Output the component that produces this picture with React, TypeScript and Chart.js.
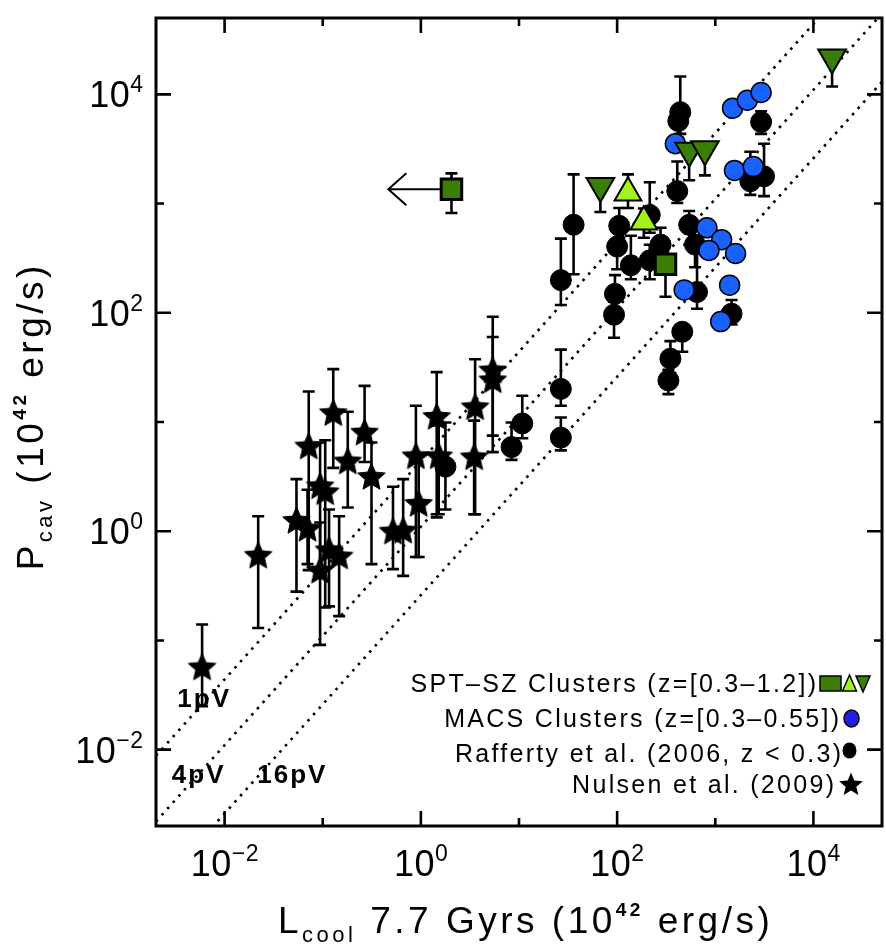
import React, { useEffect, useRef } from 'react';
import { Chart, registerables } from 'chart.js';

Chart.register(...registerables);

// ---------- axis ranges & ticks ----------
const X_MIN = 2e-3;
const X_MAX = 5e4;
const Y_MIN = 2e-3;
const Y_MAX = 5e4;
const majorDecades = [-2, 0, 2, 4];
const minorDecades = [-1, 1, 3];

// ---------- Nulsen et al. (2009) : stars ----------
const nulsenL = [0.0059, 0.022, 0.054, 0.072, 0.07, 0.094, 0.106, 0.094, 0.116, 0.147, 0.128, 0.18, 0.267, 0.314, 0.52, 0.66, 0.89, 0.95, 1.45, 1.52, 3.57, 3.49, 5.4, 5.4];
const nulsenP = [0.056, 0.59, 1.23, 5.9, 1.04, 2.55, 2.25, 0.43, 0.66, 0.58, 11.9, 4.3, 7.9, 3.1, 0.98, 1.0, 4.8, 1.76, 11.0, 4.8, 13.5, 4.7, 29.3, 23.8];
const nulsenLo = [0.025, 0.13, 0.28, 0.44, 0.5, 0.4, 0.2, 0.091, 0.205, 0.167, 3.8, 1.65, 4.3, 0.5, 0.45, 0.39, 0.58, 0.58, 1.34, 1.43, 1.43, 1.43, 5.3, 7.5];
const nulsenHi = [0.14, 1.37, 3.0, 19, 2.4, 6.5, 6.8, 1.2, 1.58, 1.37, 30.5, 12.4, 21.4, 6.5, 2.55, 3.0, 14.1, 4.8, 28.6, 9.3, 37.6, 10.3, 92, 60];

// ---------- Rafferty et al. (2006) : black circles ----------
const raffL = [1.78, 8.4, 10.8, 26.7, 26.7, 26.7, 36, 93, 95, 100, 105, 138, 215, 277, 215, 542, 622, 652, 1466, 461, 349, 333, 440, 420, 410, 2931, 2275, 3141];
const raffP = [3.9, 5.9, 9.7, 7.2, 20.1, 199, 640, 96, 149, 404, 625, 272, 787, 421, 302, 639, 421, 155, 98, 67, 38, 24, 6870, 5700, 1300, 5580, 1600, 1775];
const raffLo = [1.58, 4.5, 7.1, 5.5, 14.1, 118, 225, 59, 110, 250, 487, 203, 541, 261, 203, 421, 261, 109, 78, 44, 28, 18, 4346, 4000, 1011, 4346, 1200, 1169];
const raffHi = [9.9, 9.9, 17.4, 11.0, 46, 477, 1850, 126, 221, 666, 911, 508, 1566, 600, 420, 855, 639, 487, 131, 75, 55, 30, 14550, 7000, 2425, 7000, 2985, 3530];

// ---------- MACS clusters : blue circles ----------
const macsL = [392, 1500, 2120, 2930, 1570, 2440, 822, 1160, 861, 1610, 482, 1400, 1135];
const macsP = [3530, 7470, 8830, 10400, 2010, 2180, 600, 467, 372, 349, 162, 179, 83];

// ---------- SPT-SZ clusters ----------
const sptSquareL = [2.05, 311];
const sptSquareP = [1352, 278];
const sptSquareLo = [820, 140];
const sptSquareHi = [1888, 340];
const sptSquareLimitTo = [0.466, null]; // upper limit arrow on L

const sptUpL = [129, 187];
const sptUpP = [1253, 680];
const sptUpLo = [911, 487];
const sptUpHi = [1849, 900];

const sptDownL = [67.5, 542, 784, 15500];
const sptDownP = [1450, 3050, 3150, 21700];
const sptDownLo = [838, 1633, 1811, 11810];
const sptDownHi = [1700, 3400, 3600, 24000];

// ---------- pV reference lines : P = k * L ----------
const pvFactors = [4.4, 1.1, 0.26];
const pvLabels = ['1pV', '4pV', '16pV'];
const pvLabelL = [0.0033, 0.0029, 0.0215];
const pvLabelP = [0.0245, 0.0049, 0.0049];

// ---------- legend ----------
const legendTexts = [
  'SPT\u2013SZ Clusters (z=[0.3\u20131.2])',
  'MACS Clusters (z=[0.3\u20130.55])',
  'Rafferty et al. (2006, z < 0.3)',
  'Nulsen et al. (2009)',
];

const FONT = '"Liberation Sans", Arial, Helvetica, sans-serif';
const DARK_GREEN = '#3b7e06';
const LIGHT_GREEN = '#a4f21c';
const BLUE = '#1a62ff';

type Seg = { t: string; size: number; dy?: number; bold?: boolean };

function setLS(ctx: CanvasRenderingContext2D, px: number) {
  if ('letterSpacing' in ctx) (ctx as any).letterSpacing = px + 'px';
}

function drawRich(ctx: CanvasRenderingContext2D, segs: Seg[], x: number, y: number, align: 'left' | 'center' | 'right', spacing: number) {
  const widths = segs.map((s) => {
    ctx.font = `${s.bold ? 'bold ' : ''}${s.size}px ${FONT}`;
    setLS(ctx, spacing);
    return ctx.measureText(s.t).width;
  });
  const total = widths.reduce((a, b) => a + b, 0) - spacing;
  let cx = align === 'left' ? x : align === 'center' ? x - total / 2 : x - total;
  ctx.textAlign = 'left';
  ctx.textBaseline = 'alphabetic';
  segs.forEach((s, i) => {
    ctx.font = `${s.bold ? 'bold ' : ''}${s.size}px ${FONT}`;
    setLS(ctx, spacing);
    ctx.fillText(s.t, cx, y + (s.dy || 0));
    cx += widths[i];
  });
  setLS(ctx, 0);
}

function starPath(ctx: CanvasRenderingContext2D, cx: number, cy: number, R: number, r: number) {
  ctx.beginPath();
  for (let i = 0; i < 10; i++) {
    const a = -Math.PI / 2 + (i * Math.PI) / 5;
    const rad = i % 2 === 0 ? R : r;
    const px = cx + rad * Math.cos(a);
    const py = cy + rad * Math.sin(a);
    if (i === 0) ctx.moveTo(px, py);
    else ctx.lineTo(px, py);
  }
  ctx.closePath();
}

function makeStar(R: number): HTMLCanvasElement {
  const size = Math.ceil(R * 2 + 4);
  const c = document.createElement('canvas');
  c.width = size;
  c.height = size;
  const g = c.getContext('2d')!;
  starPath(g, size / 2, size / 2, R, R * 0.46);
  g.fillStyle = '#000';
  g.fill();
  g.lineWidth = 1;
  g.strokeStyle = '#000';
  g.stroke();
  return c;
}

const pts = (xs: number[], ys: number[]) => xs.map((x, i) => ({ x, y: ys[i] }));

// error-bar table by dataset label
const errorTable: Record<string, { x: number[]; lo: number[]; hi: number[] }> = {
  nulsen: { x: nulsenL, lo: nulsenLo, hi: nulsenHi },
  raff: { x: raffL, lo: raffLo, hi: raffHi },
  square: { x: sptSquareL, lo: sptSquareLo, hi: sptSquareHi },
  up: { x: sptUpL, lo: sptUpLo, hi: sptUpHi },
  down: { x: sptDownL, lo: sptDownLo, hi: sptDownHi },
};

const overlayPlugin = {
  id: 'overlay',
  beforeDatasetDraw(chart: any, args: any) {
    const ds = chart.data.datasets[args.index];
    const ctx: CanvasRenderingContext2D = chart.ctx;
    const xs = chart.scales.x;
    const ys = chart.scales.y;
    const ca = chart.chartArea;
    const e = errorTable[ds.label];
    ctx.save();
    ctx.beginPath();
    ctx.rect(ca.left, ca.top, ca.right - ca.left, ca.bottom - ca.top);
    ctx.clip();
    if (e) {
      ctx.strokeStyle = '#000';
      ctx.lineWidth = 2.6;
      ctx.lineCap = 'butt';
      for (let i = 0; i < e.x.length; i++) {
        const px = xs.getPixelForValue(e.x[i]);
        const lo = ys.getPixelForValue(e.lo[i]);
        const hi = ys.getPixelForValue(e.hi[i]);
        ctx.beginPath();
        ctx.moveTo(px, lo);
        ctx.lineTo(px, hi);
        ctx.moveTo(px - 6, lo);
        ctx.lineTo(px + 6, lo);
        ctx.moveTo(px - 6, hi);
        ctx.lineTo(px + 6, hi);
        ctx.stroke();
      }
    }
    if (ds.label === 'square') {
      ctx.strokeStyle = '#000';
      ctx.lineWidth = 2;
      for (let i = 0; i < sptSquareL.length; i++) {
        const to = sptSquareLimitTo[i];
        if (to == null) continue;
        const px = xs.getPixelForValue(sptSquareL[i]);
        const py = ys.getPixelForValue(sptSquareP[i]);
        const tx = xs.getPixelForValue(to);
        ctx.beginPath();
        ctx.moveTo(px, py);
        ctx.lineTo(tx, py);
        ctx.moveTo(tx + 18, py - 16);
        ctx.lineTo(tx, py);
        ctx.lineTo(tx + 18, py + 16);
        ctx.stroke();
      }
    }
    ctx.restore();
  },
  afterDraw(chart: any) {
    const ctx: CanvasRenderingContext2D = chart.ctx;
    const xs = chart.scales.x;
    const ys = chart.scales.y;
    const ca = chart.chartArea;
    ctx.save();
    ctx.fillStyle = '#000';
    ctx.strokeStyle = '#000';

    // pV labels
    pvLabels.forEach((t, i) => {
      drawRich(ctx, [{ t, size: 26, bold: true }], xs.getPixelForValue(pvLabelL[i]), ys.getPixelForValue(pvLabelP[i]), 'left', 2);
    });

    // frame
    ctx.lineWidth = 3;
    ctx.strokeRect(ca.left, ca.top, ca.right - ca.left, ca.bottom - ca.top);

    // ticks
    ctx.lineWidth = 2.6;
    const tick = (dec: number, len: number) => {
      const px = xs.getPixelForValue(Math.pow(10, dec));
      const py = ys.getPixelForValue(Math.pow(10, dec));
      ctx.beginPath();
      ctx.moveTo(px, ca.bottom);
      ctx.lineTo(px, ca.bottom - len);
      ctx.moveTo(px, ca.top);
      ctx.lineTo(px, ca.top + len);
      ctx.moveTo(ca.left, py);
      ctx.lineTo(ca.left + len, py);
      ctx.moveTo(ca.right, py);
      ctx.lineTo(ca.right - len, py);
      ctx.stroke();
    };
    majorDecades.forEach((d) => tick(d, 15));
    minorDecades.forEach((d) => tick(d, 8));

    // tick labels
    majorDecades.forEach((d) => {
      const exp = d < 0 ? '\u2212' + Math.abs(d) : String(d);
      const segs: Seg[] = [
        { t: '10', size: 36 },
        { t: exp, size: 23, dy: -15 },
      ];
      drawRich(ctx, segs, xs.getPixelForValue(Math.pow(10, d)), 876, 'center', 0.5);
      const py = ys.getPixelForValue(Math.pow(10, d));
      drawRich(ctx, segs, 143, py + 13, 'right', 0.5);
    });

    // x title
    drawRich(
      ctx,
      [
        { t: 'L', size: 37 },
        { t: 'cool', size: 22, dy: 9 },
        { t: ' 7.7 Gyrs (10', size: 37 },
        { t: '42', size: 19, dy: -17, bold: true },
        { t: ' erg/s)', size: 37 },
      ],
      278,
      933,
      'left',
      3.5
    );

    // y title (rotated)
    ctx.save();
    ctx.translate(43, 418);
    ctx.rotate(-Math.PI / 2);
    drawRich(
      ctx,
      [
        { t: 'P', size: 37 },
        { t: 'cav', size: 22, dy: 9 },
        { t: ' (10', size: 37 },
        { t: '42', size: 19, dy: -17, bold: true },
        { t: ' erg/s)', size: 37 },
      ],
      0,
      0,
      'center',
      3.5
    );
    ctx.restore();

    // legend
    const rights = [816, 839, 841, 834];
    const bases = [692, 727, 762, 793];
    legendTexts.forEach((t, i) => {
      drawRich(ctx, [{ t, size: 25 }], rights[i], bases[i], 'right', 2.3);
    });
    ctx.lineWidth = 1.5;
    // square
    ctx.fillStyle = DARK_GREEN;
    ctx.fillRect(820, 676, 21, 15);
    ctx.strokeRect(820, 676, 21, 15);
    // up triangle
    ctx.fillStyle = LIGHT_GREEN;
    ctx.beginPath();
    ctx.moveTo(849.5, 675);
    ctx.lineTo(856.5, 691);
    ctx.lineTo(842.5, 691);
    ctx.closePath();
    ctx.fill();
    ctx.stroke();
    // down triangle
    ctx.fillStyle = DARK_GREEN;
    ctx.beginPath();
    ctx.moveTo(856, 676);
    ctx.lineTo(870, 676);
    ctx.lineTo(863, 692);
    ctx.closePath();
    ctx.fill();
    ctx.stroke();
    // blue circle
    ctx.fillStyle = '#2020e6';
    ctx.beginPath();
    ctx.ellipse(851.5, 718.5, 7.5, 8.5, 0, 0, Math.PI * 2);
    ctx.fill();
    ctx.stroke();
    // black circle
    ctx.fillStyle = '#000';
    ctx.beginPath();
    ctx.ellipse(849.5, 750.5, 7, 8, 0, 0, Math.PI * 2);
    ctx.fill();
    // star
    starPath(ctx, 851, 785, 12.5, 5.6);
    ctx.fill();

    ctx.restore();
  },
};

export default function App() {
  const ref = useRef<HTMLCanvasElement>(null);
  useEffect(() => {
    const star = makeStar(14.5);
    const lineDatasets = pvFactors.map((k, i) => ({
      type: 'line' as const,
      label: 'pv' + i,
      data: [
        { x: X_MIN, y: k * X_MIN },
        { x: X_MAX, y: k * X_MAX },
      ],
      showLine: true,
      borderColor: '#000',
      borderWidth: 2.6,
      borderDash: [2.6, 5.8],
      pointRadius: 0,
      fill: false,
      order: 10,
    }));
    const chart = new Chart(ref.current!, {
      type: 'scatter',
      data: {
        datasets: [
          ...lineDatasets,
          {
            label: 'nulsen',
            data: pts(nulsenL, nulsenP),
            pointStyle: star as any,
            pointRadius: 14,
            order: 5,
          },
          {
            label: 'raff',
            data: pts(raffL, raffP),
            pointStyle: 'circle',
            pointRadius: 10.5,
            backgroundColor: '#000',
            borderColor: '#000',
            borderWidth: 1,
            order: 4,
          },
          {
            label: 'macs',
            data: pts(macsL, macsP),
            pointStyle: 'circle',
            pointRadius: 10,
            backgroundColor: BLUE,
            borderColor: '#000',
            borderWidth: 1.5,
            order: 3,
          },
          {
            label: 'square',
            data: pts(sptSquareL, sptSquareP),
            pointStyle: 'rect',
            pointRadius: 14.5,
            backgroundColor: DARK_GREEN,
            borderColor: '#000',
            borderWidth: 3,
            order: 2,
          },
          {
            label: 'up',
            data: pts(sptUpL, sptUpP),
            pointStyle: 'triangle',
            pointRadius: 15.5,
            backgroundColor: LIGHT_GREEN,
            borderColor: '#000',
            borderWidth: 2,
            order: 1,
          },
          {
            label: 'down',
            data: pts(sptDownL, sptDownP),
            pointStyle: 'triangle',
            rotation: 180,
            pointRadius: 16,
            backgroundColor: DARK_GREEN,
            borderColor: '#000',
            borderWidth: 2,
            order: 0,
          },
        ] as any,
      },
      options: {
        responsive: false,
        maintainAspectRatio: false,
        devicePixelRatio: 1,
        animation: false,
        events: [],
        layout: { padding: { left: 156, top: 9, right: 8, bottom: 121 } },
        scales: {
          x: { type: 'logarithmic', min: X_MIN, max: X_MAX, display: false },
          y: { type: 'logarithmic', min: Y_MIN, max: Y_MAX, display: false },
        },
        plugins: {
          legend: { display: false },
          tooltip: { enabled: false },
        },
      },
      plugins: [overlayPlugin],
    } as any);
    return () => chart.destroy();
  }, []);
  return (
    <div style={{ position: 'fixed', left: 0, top: 0, width: 886, height: 947, overflow: 'hidden', background: '#fff' }}>
      <canvas ref={ref} width={900} height={947} style={{ display: 'block', width: 900, height: 947 }} />
    </div>
  );
}
